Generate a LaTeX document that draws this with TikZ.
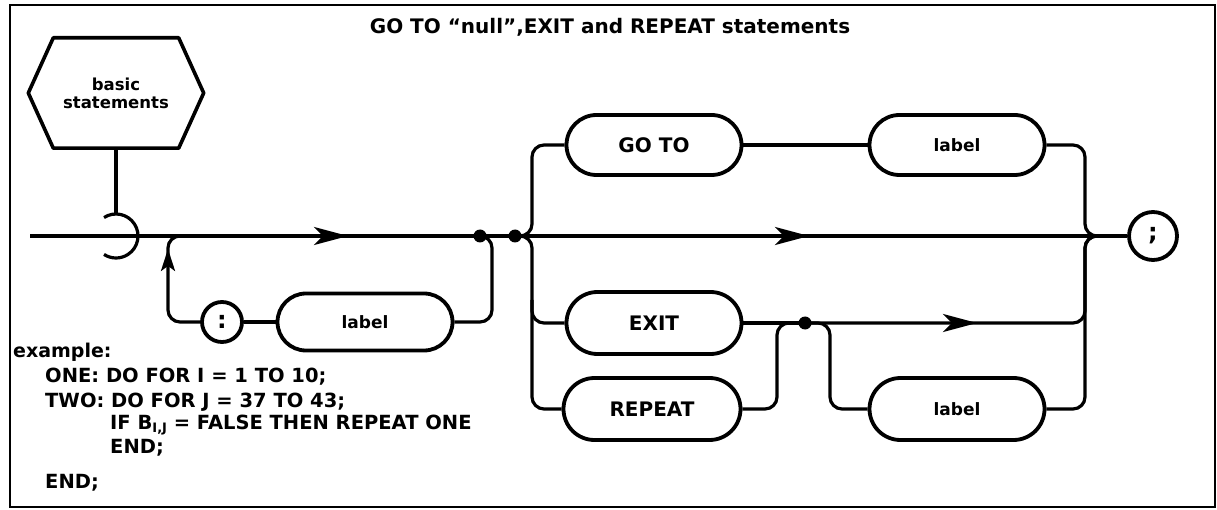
\documentclass[tikz,border=0pt]{standalone}
\usepackage{fontspec}
\setmainfont{DejaVu Sans}
\usetikzlibrary{shapes.misc,arrows.meta,decorations.markings}
\begin{document}
\begin{tikzpicture}[x=1pt,y=-1pt,
  conn/.style={line width=3.2pt},
  term/.style={draw, line width=3.8pt, rounded rectangle, minimum width=175pt,
    minimum height=60pt, inner sep=0pt, font=\fontsize{20}{20}\selectfont\bfseries},
  lblfont/.style={font=\fontsize{17}{17}\selectfont\bfseries},
  circ/.style={draw, circle, line width=3.8pt, inner sep=0pt, font=\fontsize{24}{24}\selectfont\bfseries},
  jdot/.style={circle, fill, inner sep=0pt, minimum size=13pt},
  extext/.style={anchor=base west, inner sep=0pt, font=\fontsize{19.5}{19.5}\selectfont\bfseries},
  midarrow/.style={postaction={decorate}, decoration={markings,
    mark=at position #1 with {\arrow{Stealth[length=34pt,width=18pt,inset=9pt]}}}},
  smallarrow/.style={postaction={decorate}, decoration={markings,
    mark=at position #1 with {\arrow{Stealth[length=22pt,width=14pt,inset=5pt]}}}},
  rc/.style={rounded corners=12pt}
]
\useasboundingbox (0,0) rectangle (1217,510);
\draw[line width=2.5pt] (10,5) rectangle (1215,507);

% title
\node[font=\fontsize{20}{24}\selectfont\bfseries] (title) at (610,27) {GO TO “null”,EXIT and REPEAT statements};

% hexagon
\node[minimum width=175pt, minimum height=110pt, inner sep=0pt, align=center,
  font=\fontsize{16.5}{18}\selectfont\bfseries] (hex) at (116,93) {basic\\statements};
\draw[line width=3.6pt, line join=round] (hex.west) -- ([xshift=25pt]hex.north west) -- ([xshift=-25pt]hex.north east)
  -- (hex.east) -- ([xshift=-25pt]hex.south east) -- ([xshift=25pt]hex.south west) -- cycle;
\coordinate (hook) at (116,214);
\draw[conn] (hex.south) -- (hook);
\draw[conn] (116,236) ++(123:22pt) arc[start angle=123, end angle=-123, radius=22pt];

% nodes
\coordinate (start) at (30,236);
\node[jdot] (d1) at (480,236) {};
\node[jdot] (d2) at (515,236) {};
\node[jdot] (d3) at (805,323) {};
\node[circ, minimum size=40pt] (colon) at (222,322) {:};
\node[term, minimum height=57pt, lblfont] (lab1) at (365,322) {label};
\node[term] (goto) at (654,145) {GO TO};
\node[term, lblfont] (lab2) at (957,145) {label};
\node[term, minimum height=62pt] (exit) at (654,323) {EXIT};
\node[term, minimum height=62pt, minimum width=177pt] (repeat) at (652,409) {REPEAT};
\node[term, minimum height=62pt, lblfont] (lab3) at (957,409) {label};
\node[circ, minimum size=48pt] (semi) at (1153,236) {;};

% main line
\draw[conn, midarrow=318pt] (start) -- (d1.center);
\draw[conn] (d1.center) -- (d2.center);
\draw[conn, midarrow=294pt] (d2.center) -- (semi.west);

% loop back with label
\draw[conn, rc] (d1.center) -- (492,236) -- (492,322) -- (lab1.east);
\draw[conn] (lab1.west) -- (colon.east);
\draw[conn, rc, smallarrow=100pt] (colon.west) -- (168,322) -- (168,236) -- (186,236);

% upper branch
\draw[conn, rc] (d2.center) -- (532,236) -- (532,145) -- (goto.west);
\draw[conn] (goto.east) -- (lab2.west);
\draw[conn, rc] (lab2.east) -- (1085,145) -- (1085,236) -- (1100,236);

% lower branches
\draw[conn, rc] (d2.center) -- (532,236) -- (532,409) -- (repeat.west);
\draw[conn, rc] (532,300) -- (532,323) -- (exit.west);
\draw[conn] (exit.east) -- (d3.center);
\draw[conn, rc] (repeat.east) -- (777,409) -- (777,323) -- (d3.center);
\draw[conn, rc, midarrow=172pt] (d3.center) -- (1085,323) -- (1085,236) -- (1100,236);
\draw[conn, rc] (d3.center) -- (830,323) -- (830,409) -- (lab3.west);
\draw[conn, rc] (lab3.east) -- (1085,409) -- (1085,236) -- (1100,236);

% example
\node[extext, font=\fontsize{19}{19}\selectfont\bfseries] (ex0) at (13,357) {example:};
\node[extext] (ex1) at (45,382) {ONE: DO FOR I = 1 TO 10;};
\node[extext] (ex2) at (45,407) {TWO: DO FOR J = 37 TO 43;};
\node[extext] (ex3) at (110,429) {IF B\raisebox{-3pt}{\fontsize{13}{13}\selectfont I,J} = FALSE THEN REPEAT ONE};
\node[extext] (ex4) at (110,453) {END;};
\node[extext] (ex5) at (45,488) {END;};
\end{tikzpicture}
\end{document}
